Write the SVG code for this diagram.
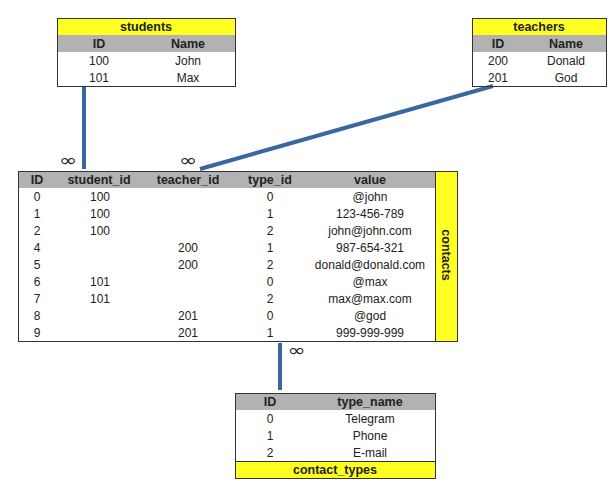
<svg xmlns="http://www.w3.org/2000/svg" width="616" height="490" viewBox="0 0 616 490">
<style>
text{font-family:"Liberation Sans",Arial,sans-serif;font-size:12px;fill:#222;text-anchor:middle}
.b{font-weight:bold;font-size:12.5px}
.y{fill:#ffff22;stroke:#333;stroke-width:1}
.g{fill:#b2b2b2}
.f{fill:none;stroke:#333;stroke-width:1}
.c{stroke:#3b67a0;stroke-width:4;fill:none}
.inf{font-family:"DejaVu Sans",sans-serif;font-size:15px}
</style>
<rect width="616" height="490" fill="#fff"/>
<g id="connectors">
<line class="c" x1="84" y1="86" x2="84" y2="169"/>
<line class="c" x1="493" y1="86" x2="200" y2="169"/>
<line class="c" x1="280" y1="343" x2="280" y2="390"/>
<text class="inf" transform="translate(68 166) scale(1.45 1.1)">∞</text>
<text class="inf" transform="translate(188 166) scale(1.45 1.1)">∞</text>
<text class="inf" transform="translate(296.5 356) scale(1.45 1.1)">∞</text>
</g>
<g id="students">
<rect class="y" x="57.5" y="18.5" width="178" height="17"/>
<rect class="g" x="58" y="35" width="177" height="17"/>
<rect class="f" x="57.5" y="18.5" width="178" height="68"/>
<text class="b" x="146" y="31">students</text>
<text class="b" x="99" y="48">ID</text>
<text class="b" x="188" y="48">Name</text>
<text x="99" y="65">100</text><text x="188" y="65">John</text>
<text x="99" y="82">101</text><text x="188" y="82">Max</text>
</g>
<g id="teachers">
<rect class="y" x="472.5" y="18.5" width="134" height="17"/>
<rect class="g" x="473" y="35" width="133" height="17"/>
<rect class="f" x="472.5" y="18.5" width="134" height="68"/>
<text class="b" x="539" y="31">teachers</text>
<text class="b" x="498" y="48">ID</text>
<text class="b" x="566" y="48">Name</text>
<text x="498" y="65">200</text><text x="566" y="65">Donald</text>
<text x="498" y="82">201</text><text x="566" y="82">God</text>
</g>
<g id="contacts">
<rect class="g" x="18" y="171" width="417" height="17"/>
<rect class="f" x="18.5" y="171.5" width="417" height="170"/>
<rect class="y" x="435.5" y="171.5" width="22" height="170"/>
<text class="b" transform="translate(442 255) rotate(90)">contacts</text>
<text class="b" x="37" y="184">ID</text>
<text class="b" x="99" y="184">student_id</text>
<text class="b" x="188" y="184">teacher_id</text>
<text class="b" x="270" y="184">type_id</text>
<text class="b" x="370" y="184">value</text>
<g>
<text x="37" y="201">0</text><text x="100" y="201">100</text><text x="270" y="201">0</text><text x="370" y="201">@john</text>
<text x="37" y="218">1</text><text x="100" y="218">100</text><text x="270" y="218">1</text><text x="370" y="218">123-456-789</text>
<text x="37" y="235">2</text><text x="100" y="235">100</text><text x="270" y="235">2</text><text x="370" y="235">john@john.com</text>
<text x="37" y="252">4</text><text x="188" y="252">200</text><text x="270" y="252">1</text><text x="370" y="252">987-654-321</text>
<text x="37" y="269">5</text><text x="188" y="269">200</text><text x="270" y="269">2</text><text x="370" y="269">donald@donald.com</text>
<text x="37" y="286">6</text><text x="100" y="286">101</text><text x="270" y="286">0</text><text x="370" y="286">@max</text>
<text x="37" y="303">7</text><text x="100" y="303">101</text><text x="270" y="303">2</text><text x="370" y="303">max@max.com</text>
<text x="37" y="320">8</text><text x="188" y="320">201</text><text x="270" y="320">0</text><text x="370" y="320">@god</text>
<text x="37" y="337">9</text><text x="188" y="337">201</text><text x="270" y="337">1</text><text x="370" y="337">999-999-999</text>
</g>
</g>
<g id="contact_types">
<rect class="g" x="236" y="393" width="200" height="17"/>
<rect class="y" x="235.5" y="461.5" width="200" height="17"/>
<rect class="f" x="235.5" y="393.5" width="200" height="85"/>
<text class="b" x="270" y="406">ID</text>
<text class="b" x="370" y="406">type_name</text>
<text x="270" y="423">0</text><text x="370" y="423">Telegram</text>
<text x="270" y="440">1</text><text x="370" y="440">Phone</text>
<text x="270" y="457">2</text><text x="370" y="457">E-mail</text>
<text class="b" x="335" y="474">contact_types</text>
</g>
</svg>
